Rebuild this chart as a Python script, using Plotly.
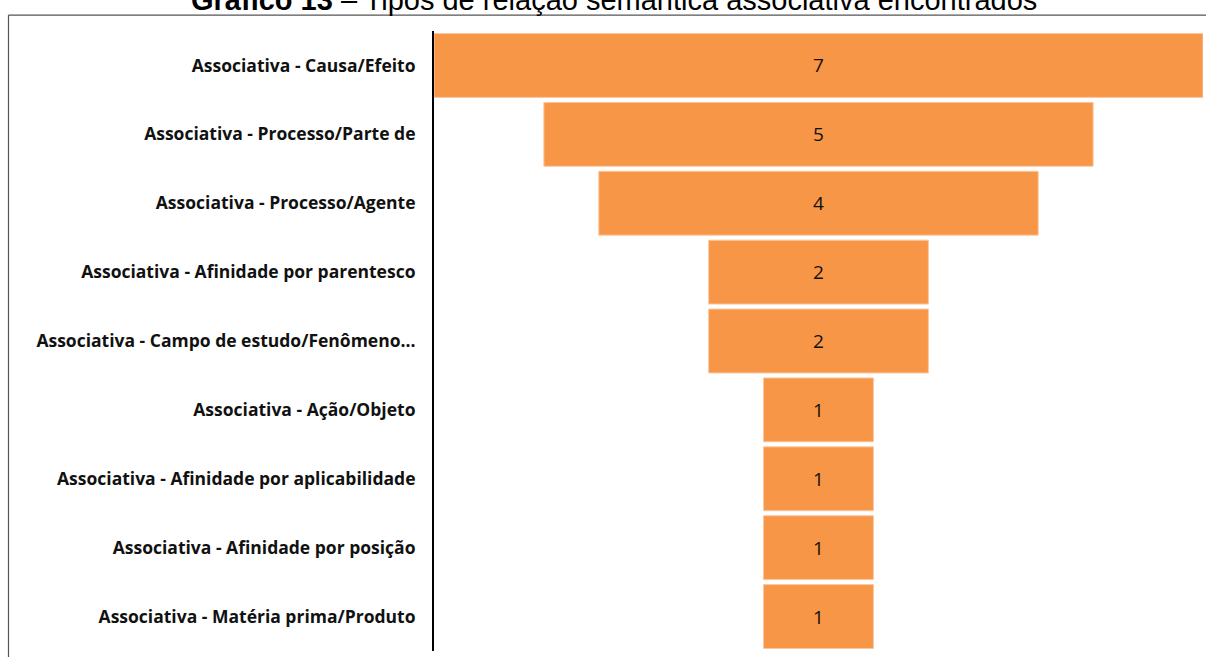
import plotly.graph_objects as go

categories = [
    "Associativa - Causa/Efeito",
    "Associativa - Processo/Parte de",
    "Associativa - Processo/Agente",
    "Associativa - Afinidade por parentesco",
    "Associativa - Campo de estudo/Fenômeno...",
    "Associativa - Ação/Objeto",
    "Associativa - Afinidade por aplicabilidade",
    "Associativa - Afinidade por posição",
    "Associativa - Matéria prima/Produto",
]
values = [7, 5, 4, 2, 2, 1, 1, 1, 1]
title_text = "<b>Gráfico 13</b> – Tipos de relação semântica associativa encontrados"

W, H = 1206, 657
L, R, T, B = 434, 3, 30.5, 5.5
pw, ph = W - L - R, H - T - B


def px_x(p):  # window pixel -> paper x
    return (p - L) / pw


def px_y(p):  # window pixel -> paper y
    return 1 - (p - T) / ph


fig = go.Figure(go.Funnel(
    y=categories,
    x=values,
    orientation="h",
    marker=dict(color="#F79646", line=dict(color="#FBC7A0", width=1)),
    textinfo="value",
    textposition="inside",
    insidetextanchor="middle",
    textfont=dict(color="#111111", size=19, family="Open Sans"),
    connector=dict(visible=False),
    hoverinfo="y+x",
))

fig.update_layout(
    width=W, height=H,
    margin=dict(l=L, r=R, t=T, b=B, pad=0),
    paper_bgcolor="white",
    plot_bgcolor="white",
    funnelgap=5 / 69,
    showlegend=False,
    xaxis=dict(range=[-3.5, 3.5], showticklabels=False, showgrid=False,
               zeroline=False, showline=False, fixedrange=True),
    yaxis=dict(range=[8.5, -0.5], showline=True, linecolor="black", linewidth=2,
               showgrid=False, zeroline=False, ticks="", ticklabelstandoff=13,
               tickfont=dict(family="Open Sans", size=17.5, color="#111111", weight="bold")),
    shapes=[
        dict(type="line", xref="paper", yref="paper",
             x0=px_x(8.5), x1=px_x(8.5), y0=px_y(700), y1=px_y(14.5),
             line=dict(color="#555555", width=1.2)),
        dict(type="line", xref="paper", yref="paper",
             x0=px_x(8.5), x1=px_x(1220), y0=px_y(14.5), y1=px_y(14.5),
             line=dict(color="#555555", width=1.2)),
    ],
    annotations=[
        dict(text=title_text, xref="paper", yref="paper",
             x=px_x(614), y=px_y(-0.5), xanchor="center", yanchor="middle",
             showarrow=False,
             font=dict(family="Liberation Sans, Arial", size=29, color="black")),
    ],
)

fig.write_html(
    "out.html",
    config={"displayModeBar": False},
    post_script="document.body.style.margin='0';document.body.style.overflow='hidden';",
)
